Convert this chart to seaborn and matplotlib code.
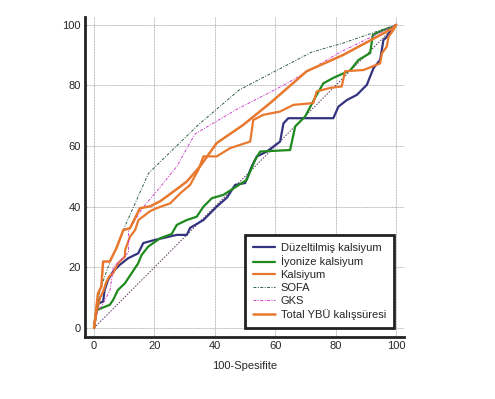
import numpy as np
import pandas as pd
import matplotlib
matplotlib.use("Agg")
import matplotlib.pyplot as plt
import seaborn as sns

# ROC curves (100-Spesifite, Duyarlilik)
duz_x = [0, 0.5, 1.3, 3, 3.5, 4.6, 6.3, 8.5, 11.3, 14.6, 16.3, 20, 27.4, 30.7, 31.8, 36.2, 38.4, 40.6, 44,
         46.7, 50, 52.2, 53.9, 57.2, 61.6, 62.7, 64.3, 79.2, 80.9, 83.7, 87, 90.3, 92.5, 94.7, 95.8, 96.9, 98.6, 100]
duz_y = [0, 4, 8, 8.7, 12.5, 15.8, 18.6, 20.8, 23, 24.6, 28, 29, 30.7, 30.7, 33, 35.6, 37.8, 40, 43,
         47.2, 47.8, 53.3, 56.6, 58.2, 61.5, 67.5, 69.2, 69.2, 73, 75.2, 76.9, 80.2, 85.7, 88.4, 95, 96, 99, 100]

iyo_x = [0, 0.8, 2.4, 5.2, 6.3, 7.9, 10.2, 12.4, 14.6, 15.7, 17.9, 21.9, 25.7, 27.4, 30.7, 34, 36.2, 39, 42.8,
         50.5, 53.3, 55, 64.9, 66.6, 69.9, 73.7, 75.9, 79.2, 84.8, 87.5, 91.4, 92.3, 95.8, 99.1, 100]
iyo_y = [0, 5.9, 6.5, 7.6, 9.2, 12.5, 14.7, 18, 21.3, 24, 26.8, 29.6, 31, 34, 35.6, 36.7, 40, 42.8, 43.9,
         48.8, 55.4, 58.2, 58.7, 66.5, 69.8, 76.9, 80.7, 82.5, 85, 88.4, 90.7, 96.7, 98.3, 99.4, 100]

kal_x = [0, 0.8, 2, 3, 4, 5, 6.3, 7.9, 10.2, 10.3, 11.9, 13.6, 14.7, 16.3, 18.5, 20.7, 25.2, 28.5, 31.8, 34.5,
         36.2, 40.6, 45, 51.7, 52.7, 56, 61.6, 66, 72.6, 73.7, 78.1, 82, 83.1, 89.2, 94.7, 95.3, 96.9, 97.5, 99.1, 100]
kal_y = [0, 5, 10, 12, 15, 17, 18, 21.3, 23.5, 25.7, 30.1, 32.3, 35.6, 36.8, 38.5, 39.5, 41.1, 44.4, 47.2, 52.1,
         56.6, 56.6, 59.3, 61.5, 68.6, 70.3, 71.4, 73.6, 74.2, 78, 79.2, 79.7, 84.7, 85.1, 87.3, 90.6, 92.8, 96.1, 98.3, 100]

sofa_x = [0, 1, 2, 4.6, 10, 18, 34.5, 48, 60.5, 72, 82.5, 100]
sofa_y = [0, 6, 12.5, 20, 33, 51, 67, 78.5, 85, 91, 94, 100]

gks_x = [0, 1, 3, 5.3, 6.4, 11.4, 11.4, 16, 22, 27.4, 33.4, 47, 62.6, 81.5, 100]
gks_y = [0, 5, 8, 12.5, 20, 25, 32, 39.5, 46.6, 53.3, 64, 72, 80, 91, 100]

ybu_x = [0, 0.8, 1.3, 2.4, 3, 5.2, 7.4, 9.7, 11.9, 15.2, 18.5, 21.9, 26.3, 30.7, 35.1, 40.6, 49.4, 58.3, 70.4, 82.5, 99, 100]
ybu_y = [0, 7, 11.4, 13.6, 21.9, 21.9, 26.3, 32.3, 32.9, 39.5, 40.1, 41.8, 45, 48.3, 53.3, 61, 67, 74.2, 84.7, 90.1, 98.9, 100]

sns.set_style("white")
plt.rcParams['font.family'] = ['Liberation Sans', 'DejaVu Sans']

fig = plt.figure(figsize=(4.95, 3.99), dpi=100)
ax = fig.add_axes([0.1717, 0.1554, 0.6444, 0.802])

orange = '#E8782E'
# diagonal reference
sns.lineplot(x=[0, 100], y=[0, 100], ax=ax, color='#553355', linewidth=0.7, linestyle=(0, (1.5, 1.5)))
sns.lineplot(x=duz_x, y=duz_y, sort=False, estimator=None, ax=ax, color='#333380', linewidth=1.6,
             label='Düzeltilmiş kalsiyum')
sns.lineplot(x=iyo_x, y=iyo_y, sort=False, estimator=None, ax=ax, color='#1E8A1E', linewidth=1.6,
             label='İyonize kalsiyum')
sns.lineplot(x=kal_x, y=kal_y, sort=False, estimator=None, ax=ax, color=orange, linewidth=1.6,
             label='Kalsiyum')
sns.lineplot(x=sofa_x, y=sofa_y, sort=False, estimator=None, ax=ax, color='#2F5F40', linewidth=0.7,
             linestyle=(0, (3, 1.5, 1, 1.5)), label='SOFA')
sns.lineplot(x=gks_x, y=gks_y, sort=False, estimator=None, ax=ax, color='#D040D0', linewidth=0.7,
             linestyle=(0, (3, 1.5, 1, 1.5)), label='GKS')
sns.lineplot(x=ybu_x, y=ybu_y, sort=False, estimator=None, ax=ax, color=orange, linewidth=1.8,
             label='Total YBÜ kalışsüresi')

ax.set_xlim(-3, 102.6)
ax.set_ylim(-3, 102.6)
ax.set_xticks([0, 20, 40, 60, 80, 100])
ax.set_yticks([0, 20, 40, 60, 80, 100])
ax.set_xticks(np.arange(0, 101, 5), minor=True)
ax.set_yticks(np.arange(0, 101, 5), minor=True)
ax.grid(True, which='major', color='#b4b4b4', linewidth=0.7, linestyle=(0, (1, 0.6)))
ax.set_axisbelow(True)

for s in ['top', 'right']:
    ax.spines[s].set_visible(False)
for s in ['left', 'bottom']:
    ax.spines[s].set_linewidth(2)
    ax.spines[s].set_color('#222222')

ax.tick_params(which='major', direction='in', length=5, width=1.5, color='#222222', labelsize=8, pad=3)
ax.tick_params(which='minor', direction='in', length=3, width=0.8, color='#222222')
ax.set_xlabel('100-Spesifite', fontsize=8, labelpad=7)
ax.set_ylabel('')

leg = ax.legend(loc='lower right', bbox_to_anchor=(0.985, 0.012), fontsize=8, fancybox=False,
                framealpha=1, edgecolor='#222222', handlelength=2.0, handletextpad=0.5,
                labelspacing=0.26, borderpad=0.7)
leg.get_frame().set_linewidth(2)

fig.savefig('out.png', dpi=100)
